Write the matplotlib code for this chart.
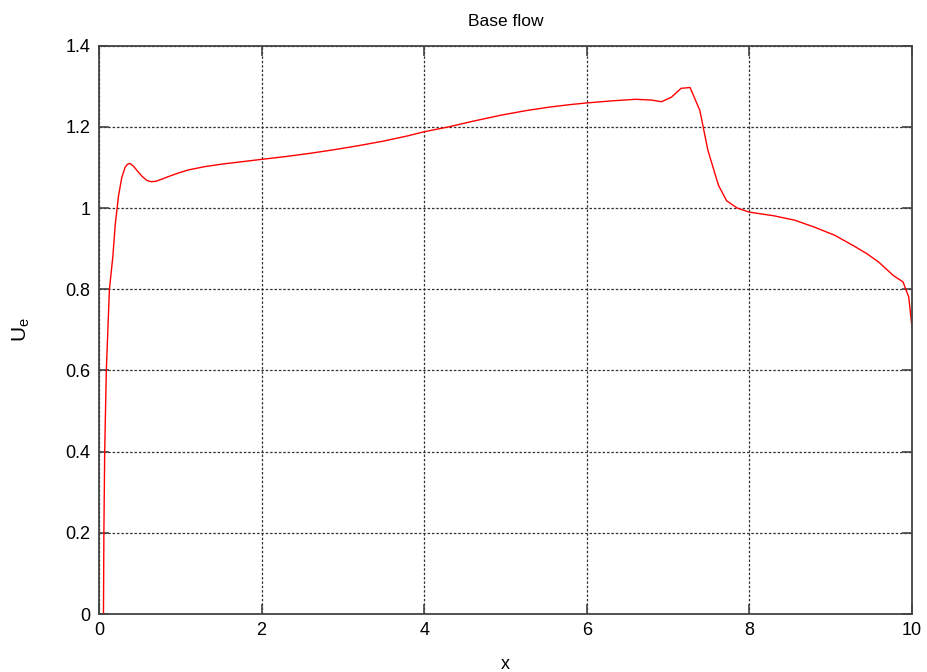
import numpy as np
import matplotlib
matplotlib.use("Agg")
import matplotlib.pyplot as plt

plt.rcParams['font.family'] = ['Liberation Sans', 'DejaVu Sans']

# base flow edge velocity
x = [0.055, 0.06, 0.07, 0.09, 0.128, 0.17, 0.20, 0.24, 0.28, 0.32, 0.35, 0.38, 0.42,
     0.47, 0.53, 0.59, 0.64, 0.70, 0.77, 0.86, 0.97, 1.1, 1.3, 1.5, 1.75, 2.0, 2.3,
     2.6, 2.9, 3.2, 3.5, 3.8, 4.0, 4.3, 4.6, 4.95, 5.25, 5.55, 5.8, 6.0, 6.3, 6.6,
     6.8, 6.92, 7.04, 7.16, 7.27, 7.39, 7.49, 7.62, 7.72, 7.85, 8.0, 8.3, 8.56,
     8.8, 9.05, 9.3, 9.45, 9.59, 9.77, 9.89, 9.96, 10.0]
ue = [0.0, 0.2, 0.4, 0.6, 0.8, 0.88, 0.96, 1.03, 1.075, 1.10, 1.108, 1.11, 1.104,
      1.092, 1.078, 1.068, 1.065, 1.066, 1.071, 1.078, 1.086, 1.094, 1.102, 1.108,
      1.114, 1.12, 1.127, 1.135, 1.144, 1.154, 1.165, 1.178, 1.188, 1.2, 1.214,
      1.229, 1.24, 1.249, 1.255, 1.259, 1.264, 1.268, 1.266, 1.262, 1.273, 1.295,
      1.297, 1.241, 1.142, 1.056, 1.018, 1.0, 0.990, 0.981, 0.970, 0.953, 0.933,
      0.905, 0.887, 0.867, 0.834, 0.818, 0.781, 0.707]

xticks = [0, 2, 4, 6, 8, 10]
yticks = [0, 0.2, 0.4, 0.6, 0.8, 1, 1.2, 1.4]
ytick_labels = ['0', '0.2', '0.4', '0.6', '0.8', '1', '1.2', '1.4']

fig = plt.figure(figsize=(9.27, 6.72), dpi=100)
ax = fig.add_axes([0.1068, 0.0863, 0.8770, 0.8457])

ax.plot(x, ue, color='#ff0000', lw=1.0)

ax.set_xlim(0, 10)
ax.set_ylim(0, 1.4)
ax.set_xticks(xticks)
ax.set_xticklabels([str(t) for t in xticks])
ax.set_yticks(yticks)
ax.set_yticklabels(ytick_labels)

ax.grid(True, color='#333333', linestyle=(0, (2, 1.5)), linewidth=0.9)
ax.tick_params(direction='in', length=7, width=1.2, color='#444444',
               top=True, right=True, labelsize=13, pad=6)
for s in ax.spines.values():
    s.set_color('#444444')
    s.set_linewidth(1.3)

ax.set_title('Base flow', fontsize=12.5, pad=14)
ax.set_xlabel('x', fontsize=13, labelpad=12)
ax.set_ylabel('U$_\\mathregular{e}$', fontsize=15, labelpad=24)

fig.savefig('out.png', dpi=100)
